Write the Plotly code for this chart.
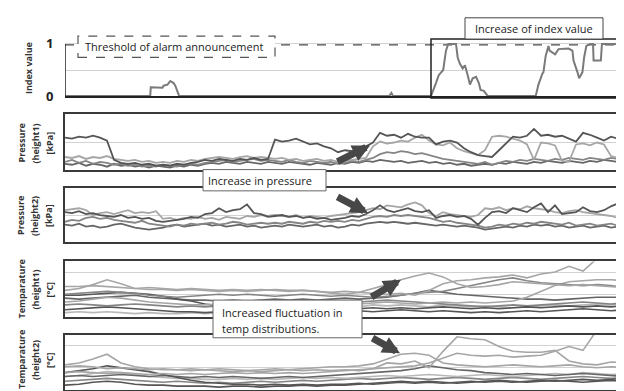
import plotly.graph_objects as go

W, H = 624, 391

# ---------------- data ----------------
# time axis: percent of observation window
t_p = [i * 1.25 for i in range(81)]   # pressure samples
t_T = [i * 2.5 for i in range(41)]    # temperature samples

threshold = 0.98

index_t = [0, 15.3, 15.4, 16.6, 17.5, 17.7, 18.4, 18.9, 19.5, 19.8, 20.5,
           58.2, 58.6, 58.9,
           65.7, 66.6, 67.1, 67.9, 68.4, 68.8, 70.2, 70.5, 70.9, 71.4, 71.8, 72.3, 72.7,
           73.2, 73.8, 74.3, 74.6, 75.2, 75.9,
           84.5, 85.0, 85.7, 85.9, 86.3, 86.8, 87.0, 87.7, 88.0, 88.6, 90.4, 91.1, 91.3,
           92.0, 92.3, 92.9, 93.2, 93.6, 94.3, 94.8, 94.9, 96.2, 96.4, 99.6, 100.0]
index_v = [0, 0, 0.17, 0.17, 0.16, 0.2, 0.22, 0.29, 0.25, 0.2, 0,
           0, 0.06, 0,
           0, 0.25, 0.4, 0.5, 0.87, 1.0, 1.0, 0.74, 0.62, 0.53, 0.59, 0.4, 0.22,
           0.34, 0.37, 0.25, 0.12, 0.1, 0,
           0, 0.22, 0.43, 0.46, 0.77, 0.96, 0.87, 0.83, 0.8, 0.9, 0.91, 0.87, 0.68,
           0.46, 0.34, 0.46, 0.74, 0.96, 1.0, 1.0, 0.68, 0.68, 1.0, 1.0, 0.68]

p1_a = [33, 32, 34, 33, 35, 33, 30, 10, 7, 6,
        7, 5, 6, 4, 5, 4, 6, 5, 7, 8,
        10, 9, 11, 10, 9, 11, 10, 12, 10, 11,
        31, 29, 30, 32, 29, 26, 27, 24, 22, 18,
        20, 19, 21, 24, 28, 38, 35, 36, 33, 37,
        34, 33, 33, 26, 29, 30, 28, 22, 18, 15,
        14, 13, 20, 27, 34, 33, 35, 42, 35, 36,
        34, 35, 32, 29, 38, 36, 33, 30, 34, 32,
        31]
p1_b = [13, 12, 14, 11, 13, 12, 14, 11, 10, 9,
        10, 8, 9, 7, 8, 7, 9, 8, 10, 9,
        11, 12, 13, 12, 11, 13, 14, 12, 13, 12,
        11, 12, 10, 11, 9, 10, 11, 9, 10, 8,
        9, 10, 11, 12, 24, 29, 27, 28, 30, 29,
        33, 36, 30, 26, 25, 28, 22, 19, 17, 15,
        20, 34, 35, 34, 32, 30, 26, 10, 28, 27,
        25, 9, 8, 26, 27, 25, 28, 26, 14, 12,
        11]
p1_c = [8, 10, 7, 9, 6, 8, 7, 5, 6, 4,
        5, 3, 4, 3, 5, 4, 3, 5, 6, 5,
        7, 8, 9, 10, 8, 9, 10, 11, 9, 10,
        9, 8, 10, 8, 7, 9, 8, 7, 8, 6,
        7, 9, 8, 10, 12, 16, 18, 17, 19, 18,
        16, 17, 15, 13, 11, 10, 9, 8, 7, 6,
        8, 5, 7, 9, 8, 10, 9, 11, 10, 9,
        11, 10, 12, 11, 10, 12, 11, 10, 12, 11,
        13]
p1_d = [6, 5, 7, 4, 6, 5, 3, 6, 4, 5,
        3, 4, 2, 4, 3, 2, 4, 3, 5, 4,
        6, 7, 6, 8, 7, 6, 8, 7, 6, 8,
        7, 6, 8, 7, 6, 5, 7, 6, 5, 7,
        6, 8, 7, 9, 8, 10, 9, 8, 9, 7,
        8, 9, 7, 8, 6, 7, 5, 6, 4, 5,
        6, 5, 7, 6, 8, 7, 6, 8, 7, 9,
        8, 7, 9, 8, 7, 9, 8, 10, 9, 8,
        9]

p2_l = [33, 34, 35, 33, 28, 30, 31, 29, 31, 33,
        30, 31, 30, 32, 24, 25, 23, 25, 24, 26,
        24, 25, 23, 26, 25, 24, 27, 26, 28, 27,
        28, 27, 26, 28, 25, 27, 26, 25, 27, 28,
        29, 30, 31, 33, 35, 34, 38, 37, 36, 39,
        41, 38, 30, 27, 31, 29, 28, 27, 26, 28,
        35, 34, 36, 33, 35, 34, 37, 35, 34, 33,
        31, 30, 32, 33, 31, 30, 29, 28, 27, 25,
        26]
p2_t = [31, 30, 32, 29, 30, 28, 27, 26, 28, 25,
        26, 24, 25, 22, 21, 22, 23, 24, 26, 25,
        29, 30, 35, 31, 33, 34, 39, 30, 29, 26,
        27, 28, 26, 27, 25, 26, 24, 25, 23, 24,
        25, 27, 26, 29, 33, 38, 33, 31, 33, 35,
        32, 31, 33, 25, 27, 28, 26, 27, 24, 18,
        25, 31, 32, 30, 35, 33, 31, 36, 40, 31,
        38, 29, 30, 31, 36, 32, 31, 33, 37, 40,
        33]
p2_m = [21, 23, 22, 25, 26, 24, 25, 23, 22, 21,
        20, 22, 19, 18, 17, 16, 18, 17, 19, 18,
        19, 20, 18, 19, 21, 20, 18, 19, 20, 19,
        20, 19, 21, 20, 19, 21, 20, 22, 21, 22,
        21, 23, 22, 24, 26, 27, 26, 28, 27, 28,
        27, 26, 25, 23, 21, 22, 20, 19, 18, 17,
        15, 16, 18, 17, 19, 18, 20, 19, 21, 20,
        19, 18, 20, 17, 18, 19, 17, 18, 19, 17,
        18]
p2_d = [18, 17, 19, 16, 17, 15, 16, 18, 19, 17,
        15, 14, 13, 14, 15, 17, 18, 16, 17, 18,
        19, 17, 18, 16, 17, 18, 16, 17, 15, 16,
        17, 16, 18, 17, 16, 17, 18, 16, 17, 15,
        16, 18, 17, 19, 20, 21, 20, 21, 20, 19,
        20, 19, 18, 17, 18, 17, 16, 17, 16, 15,
        13, 14, 15, 16, 15, 17, 16, 18, 17, 18,
        16, 17, 15, 16, 17, 15, 16, 17, 15, 16,
        16]

t1_1 = [27, 29, 33, 38, 34, 29, 28, 28, 27, 28, 27, 26, 27, 26, 27, 28, 27, 27, 26, 24,
        23, 25, 29, 33, 38, 42, 45, 41, 34, 30, 31, 33, 36, 35, 34, 33, 32, 33, 32, 31, 30]
t1_2 = [31, 31, 32, 31, 30, 29, 30, 29, 28, 29, 28, 27, 28, 27, 28, 27, 26, 27, 26, 25,
        26, 25, 24, 23, 24, 22, 27, 34, 37, 38, 40, 41, 43, 40, 44, 46, 52, 47, 60, 62, 63]
t1_3 = [23, 24, 25, 26, 25, 24, 22, 21, 20, 21, 22, 23, 22, 23, 22, 21, 22, 23, 22, 21,
        22, 21, 20, 21, 22, 24, 25, 26, 29, 32, 35, 38, 40, 37, 35, 34, 33, 32, 33, 32, 30]
t1_4 = [15, 16, 18, 20, 19, 17, 15, 14, 13, 12, 12, 13, 12, 11, 12, 13, 12, 11, 12, 13,
        14, 13, 14, 15, 14, 13, 14, 15, 14, 15, 14, 15, 16, 20, 26, 32, 36, 37, 38, 38, 37]
t1_5 = [22, 22, 23, 24, 25, 24, 23, 21, 18, 16, 13, 11, 10, 9, 8, 8, 7, 8, 7, 8,
        7, 8, 9, 8, 9, 8, 9, 10, 9, 8, 9, 8, 9, 10, 9, 10, 11, 10, 11, 10, 11]
t1_6 = [19, 18, 19, 20, 21, 22, 20, 19, 18, 17, 17, 16, 17, 16, 17, 18, 17, 18, 17, 18,
        19, 18, 19, 20, 22, 24, 27, 25, 23, 22, 21, 20, 19, 18, 18, 17, 18, 19, 20, 20, 20]
t1_7 = [12, 13, 12, 11, 12, 13, 12, 11, 10, 11, 10, 11, 12, 11, 12, 13, 14, 13, 14, 15,
        16, 15, 16, 17, 16, 15, 14, 13, 12, 11, 10, 11, 12, 11, 12, 13, 14, 15, 14, 13, 14]
t1_8 = [7, 8, 9, 10, 9, 8, 7, 6, 5, 5, 4, 5, 4, 5, 4, 5, 5, 4, 5, 6,
        5, 6, 5, 6, 7, 6, 5, 6, 5, 4, 5, 4, 5, 6, 5, 6, 7, 8, 7, 6, 7]
t1_9 = [4, 5, 4, 5, 4, 3, 4, 3, 3, 4, 3, 4, 3, 3, 4, 3, 5, 6, 7, 8,
        9, 10, 12, 11, 12, 11, 10, 12, 11, 10, 11, 10, 9, 10, 11, 12, 11, 12, 13, 12, 13]

t2_1 = [26, 28, 32, 37, 28, 24, 22, 21, 21, 20, 21, 20, 19, 20, 19, 20, 21, 22, 23, 24,
        24, 25, 27, 32, 37, 38, 36, 28, 26, 25, 24, 25, 26, 25, 24, 25, 26, 24, 23, 24, 23]
t2_2 = [24, 25, 24, 22, 23, 22, 21, 22, 21, 22, 21, 22, 21, 20, 21, 22, 21, 20, 21, 20,
        21, 20, 22, 28, 27, 30, 23, 40, 55, 53, 52, 45, 40, 39, 39, 41, 30, 27, 26, 29, 28]
t2_3 = [18, 19, 18, 17, 18, 17, 16, 17, 16, 17, 16, 17, 18, 17, 18, 17, 18, 17, 18, 19,
        20, 21, 22, 23, 24, 25, 28, 33, 38, 36, 35, 36, 34, 35, 36, 40, 45, 41, 62, 65, 66]
t2_4 = [18, 20, 22, 25, 23, 21, 19, 16, 13, 10, 8, 7, 6, 6, 5, 6, 5, 6, 5, 6,
        6, 7, 6, 7, 8, 7, 8, 7, 8, 9, 8, 9, 8, 9, 10, 9, 10, 11, 10, 11, 12]
t2_5 = [14, 15, 14, 15, 16, 15, 14, 15, 14, 13, 14, 13, 14, 13, 12, 13, 14, 13, 14, 15,
        16, 17, 18, 19, 20, 22, 25, 23, 21, 20, 18, 17, 16, 17, 16, 15, 16, 17, 16, 15, 14]
t2_6 = [14, 15, 17, 19, 18, 16, 14, 13, 12, 12, 11, 11, 12, 11, 12, 11, 12, 13, 12, 13,
        12, 13, 14, 15, 14, 15, 16, 15, 14, 15, 16, 15, 14, 15, 16, 17, 16, 18, 17, 16, 17]
t2_7 = [5, 6, 8, 9, 8, 6, 5, 5, 4, 4, 4, 3, 4, 4, 3, 4, 4, 5, 4, 5,
        5, 6, 7, 8, 9, 8, 9, 8, 7, 8, 9, 10, 9, 8, 9, 10, 9, 8, 9, 10, 9]
t2_8 = [9, 10, 11, 12, 11, 10, 9, 8, 9, 8, 7, 8, 7, 8, 9, 8, 9, 10, 9, 10,
        11, 12, 11, 12, 13, 12, 11, 12, 13, 12, 11, 12, 13, 12, 11, 12, 13, 14, 13, 12, 13]

# ---------------- figure ----------------
FONT = "Open Sans"
DARK, DARK2, MID, LIGHT, LIGHT2 = "#555555", "#666666", "#858585", "#a6a6a6", "#b8b8b8"

def px(x):
    return x / W

def py(y):
    return 1 - y / H

fig = go.Figure()

def add(x, y, color, ax_i, width=1.8, dash=None):
    fig.add_trace(go.Scatter(
        x=x, y=y, mode="lines",
        line=dict(color=color, width=width, dash=dash),
        xaxis="x" if ax_i == 1 else f"x{ax_i}",
        yaxis="y" if ax_i == 1 else f"y{ax_i}",
        showlegend=False, hoverinfo="skip"))

# panel 1
add([0, 100.54], [threshold, threshold], "#4a4a4a", 1, width=1.3, dash="dash")
add(index_t, index_v, "#7a7a7a", 1, width=2)

# panel 2
for s, c in [(p1_d, DARK2), (p1_c, MID), (p1_b, LIGHT), (p1_a, DARK)]:
    add(t_p, s, c, 2)
# panel 3
for s, c in [(p2_d, DARK2), (p2_m, MID), (p2_l, LIGHT), (p2_t, DARK)]:
    add(t_p, s, c, 3)
# panel 4
for s, c in [(t1_9, LIGHT2), (t1_8, DARK), (t1_7, MID), (t1_6, DARK2), (t1_5, DARK),
             (t1_4, LIGHT), (t1_3, MID), (t1_2, LIGHT), (t1_1, LIGHT)]:
    add(t_T, s, c, 4, width=1.6)
# panel 5
for s, c in [(t2_8, MID), (t2_7, DARK), (t2_6, LIGHT2), (t2_5, DARK2), (t2_4, DARK),
             (t2_3, LIGHT), (t2_2, LIGHT), (t2_1, LIGHT)]:
    add(t_T, s, c, 5, width=1.6)

xdom = [px(57), px(617)]
frame = dict(showline=True, mirror=True, linecolor="#3a3a3a", linewidth=1.5,
             zeroline=False, ticks="", showticklabels=False)

layout = dict(
    width=W, height=H, margin=dict(l=0, r=0, t=0, b=0),
    paper_bgcolor="white", plot_bgcolor="white",
    font=dict(family=FONT, color="#222"),
    xaxis=dict(domain=xdom, range=[0, 100.54], showline=True, linecolor="#222",
               linewidth=1.5, showgrid=False, zeroline=False, showticklabels=False,
               anchor="y"),
    yaxis=dict(domain=[py(87), py(27.6)], range=[0, 1.1], tickvals=[0, 0.5, 1],
               ticktext=["<b>0</b>", "", "<b>1</b>"], showgrid=True, gridcolor="#d2d2d2",
               zeroline=False, showline=False, tickfont=dict(size=13, color="#222"),
               ticks="outside", ticklen=8, tickcolor="rgba(0,0,0,0)", anchor="x"),
)
panels = {2: (106, 163, [0, 57], [28.5]),
          3: (182, 238, [0, 56], [27]),
          4: (258, 315, [0, 57], [23, 46]),
          5: (334, 391, [0, 57], [23, 46])}
for i, (top, bot, rng, grid) in panels.items():
    layout[f"xaxis{i}"] = dict(domain=xdom, range=[0, 100], showgrid=False,
                               anchor=f"y{i}", **frame)
    layout[f"yaxis{i}"] = dict(domain=[max(0, py(bot)), py(top)], range=rng,
                               tickvals=grid, showgrid=True, gridcolor="#d2d2d2",
                               anchor=f"x{i}", **frame)
fig.update_layout(**layout)

shapes = [
    # left axis of index panel
    dict(type="line", xref="x", yref="y", x0=0, x1=0, y0=0, y1=1.0,
         line=dict(color="#222", width=1.5)),
    # threshold label box (dashed)
    dict(type="rect", xref="paper", yref="paper", x0=px(70), x1=px(267), y0=py(47), y1=py(25),
         fillcolor="white", line=dict(color="#555", width=1.2, dash="dash"), layer="above"),
    # highlight rectangle
    dict(type="rect", xref="paper", yref="paper", x0=px(423), x1=px(622), y0=py(89), y1=py(28),
         line=dict(color="#222", width=1.5), layer="above"),
    dict(type="rect", xref="paper", yref="paper", x0=px(457), x1=px(595), y0=py(28), y1=py(6),
         fillcolor="white", line=dict(color="#444", width=1), layer="above"),
    dict(type="rect", xref="paper", yref="paper", x0=px(195), x1=px(318), y0=py(185), y1=py(163),
         fillcolor="white", line=dict(color="#666", width=1), layer="above"),
    dict(type="rect", xref="paper", yref="paper", x0=px(205), x1=px(354), y0=py(337), y1=py(298),
         fillcolor="white", line=dict(color="#666", width=1), layer="above"),
]
fig.update_layout(shapes=shapes)

ann = []
def text(x, y, s, size=11, xanchor="center", bold=False, angle=0, color="#222"):
    ann.append(dict(x=px(x), y=py(y), xref="paper", yref="paper", text=f"<b>{s}</b>" if bold else s,
                    showarrow=False, xanchor=xanchor, yanchor="middle", textangle=angle,
                    font=dict(family=FONT, size=size, color=color)))

text(166, 36, "Threshold of alarm announcement")
text(526, 17, "Increase of index value")
text(252, 174, "Increase in pressure")
text(212, 311, "Increased fluctuation in", xanchor="left")
text(212, 327, "temp distributions.", xanchor="left")

text(20, 58, "Index value", size=9, bold=True, angle=-90, color="#333")
ylabels = [(["Pressure", "(height1)", "[kPa]"], 136),
           (["Pressure", "(height2)", "[kPa]"], 211),
           (["Temparature", "(height1)", "[°C]"], 287),
           (["Temparature", "(height2)", "[°C]"], 360)]
for lines, cy in ylabels:
    for xx, s in zip([13, 27, 41], lines):
        text(xx, cy, s, size=9, bold=True, angle=-90, color="#333")

for (hx, hy, tx, ty) in [(362, 138, 328, 155), (360, 208, 328, 191),
                         (393, 277, 362, 295), (392, 353, 363, 337)]:
    ann.append(dict(x=px(hx), y=py(hy), xref="paper", yref="paper", ax=tx - hx, ay=ty - hy,
                    showarrow=True, arrowhead=2, arrowsize=0.5, arrowwidth=7,
                    arrowcolor="#474747", standoff=0, text=""))
fig.update_layout(annotations=ann)

fig.write_html("out.html")
